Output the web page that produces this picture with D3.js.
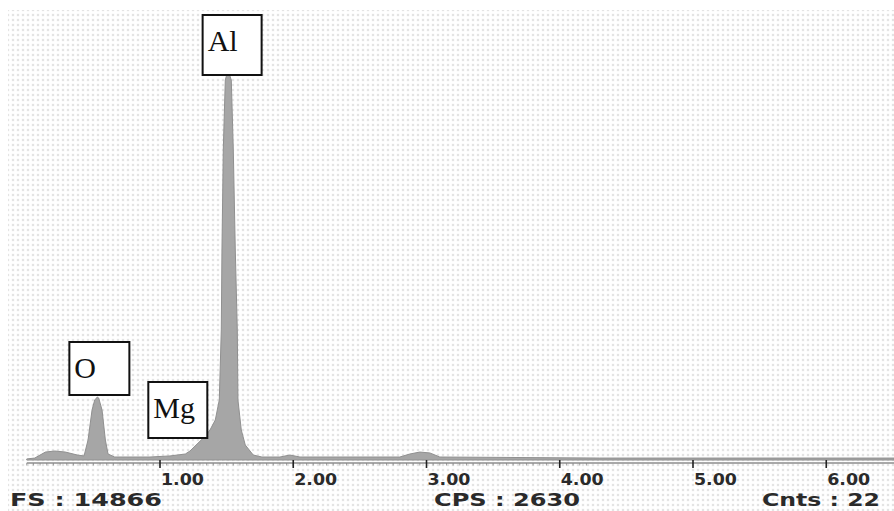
<!DOCTYPE html>
<html>
<head>
<meta charset="utf-8">
<script src="https://cdn.jsdelivr.net/npm/d3@7"></script>
<style>
  body { margin: 0; background: #fff; }
  svg { display: block; }
</style>
</head>
<body>
<svg id="chart"></svg>
<script>
const width = 894;
const height = 511;

// spectrum (keV, counts)
const energy = [0.00, 0.06, 0.14, 0.21, 0.29, 0.38, 0.43, 0.46, 0.49, 0.51, 0.53, 0.54, 0.565, 0.59, 0.61, 0.66,
  0.775, 0.925, 1.075, 1.19, 1.225, 1.285, 1.34, 1.375, 1.415, 1.445, 1.46, 1.465, 1.475, 1.49, 1.51, 1.535,
  1.55, 1.565, 1.58, 1.585, 1.61, 1.64, 1.70, 1.765, 1.90, 1.975, 2.05, 2.80, 2.875, 2.95, 3.025, 3.10, 4.30, 6.51];
const counts = [35, 65, 265, 300, 265, 165, 135, 665, 1665, 2000, 2100, 2065, 1665, 665, 200, 100,
  100, 100, 135, 200, 300, 560, 800, 1000, 1335, 2000, 4335, 7000, 10335, 12665, 13000, 12665,
  10335, 7000, 4335, 2000, 1000, 500, 165, 100, 100, 165, 100, 100, 200, 265, 235, 100, 65, 65];

const tickValues = [1, 2, 3, 4, 5, 6];
const tickLabels = ["1.00", "2.00", "3.00", "4.00", "5.00", "6.00"];

const peakNames = ["O", "Mg", "Al"];
const peakEnergy = [0.53, 1.25, 1.50];

const footer = ["FS : 14866", "CPS : 2630", "Cnts : 22"];

let svg = d3.select("#chart")
  .attr("width", width)
  .attr("height", height);

const x = d3.scaleLinear().domain([0, 6.5]).range([26.75, 26.75 + 6.5 * 133.25]);
const y = d3.scaleLinear().domain([0, 15000]).range([460, 10]);

// dotted grid behind everything
let defs = svg.append("defs");
let pat = defs.append("pattern")
  .attr("id", "dots")
  .attr("width", 5)
  .attr("height", 5)
  .attr("patternUnits", "userSpaceOnUse")
  .attr("x", 0.5)
  .attr("y", 2.5);
pat.append("rect")
  .attr("x", 1.8)
  .attr("y", 1.8)
  .attr("width", 1.4)
  .attr("height", 1.4)
  .style("fill", "#b4b4b4");

svg.append("rect")
  .attr("x", 8)
  .attr("y", 10)
  .attr("width", width - 8)
  .attr("height", height - 10)
  .style("fill", "url(#dots)");

function drawSpectrum() {
  const pts = energy.map((e, i) => ({e: e, c: counts[i]}));
  const area = d3.area()
    .x(d => x(d.e))
    .y0(y(0))
    .y1(d => y(d.c));
  svg.append("path")
    .attr("d", area(pts))
    .style("fill", "#a6a6a6")
    .style("stroke", "#909090")
    .style("stroke-width", 1);
}

function drawAxis() {
  const axisY = 463;
  svg.append("line")
    .attr("x1", x(0))
    .attr("x2", width)
    .attr("y1", axisY)
    .attr("y2", axisY)
    .style("stroke", "#555")
    .style("stroke-width", 1.2);

  // small hatch marks under the line
  const minor = d3.range(0, 4.25, 0.05);
  svg.append("g").selectAll("line")
    .data(minor)
    .join("line")
    .attr("x1", d => x(d))
    .attr("x2", d => x(d))
    .attr("y1", axisY)
    .attr("y2", axisY + 2.5)
    .style("stroke", "#888")
    .style("stroke-width", 0.8);

  svg.append("g").selectAll("line")
    .data(tickValues)
    .join("line")
    .attr("x1", d => x(d))
    .attr("x2", d => x(d))
    .attr("y1", axisY - 3)
    .attr("y2", axisY + 5)
    .style("stroke", "#222")
    .style("stroke-width", 1.6);

  svg.append("g").selectAll("text")
    .data(tickValues)
    .join("text")
    .attr("x", d => x(d) + 1)
    .attr("y", 485)
    .attr("textLength", 43)
    .attr("lengthAdjust", "spacingAndGlyphs")
    .text((d, i) => tickLabels[i])
    .style("font-family", "DejaVu Sans, sans-serif")
    .style("font-weight", "bold")
    .style("font-size", "16px")
    .style("fill", "#2a2a2a");
}

function drawFooter() {
  const fx = [10, 434, 762];
  const fw = [152, 146, 118];
  svg.append("g").selectAll("text")
    .data(footer)
    .join("text")
    .attr("x", (d, i) => fx[i])
    .attr("y", 506)
    .attr("textLength", (d, i) => fw[i])
    .attr("lengthAdjust", "spacingAndGlyphs")
    .text(d => d)
    .style("font-family", "DejaVu Sans, sans-serif")
    .style("font-weight", "bold")
    .style("font-size", "17px")
    .style("fill", "#2a2a2a");
}

function drawLabels() {
  // label boxes sit next to each peak
  const boxW = [60, 59, 59];
  const boxH = [53, 56, 60];
  const dx = [-28, -45, -24];
  const boxTop = [342, 382, 15];
  peakNames.forEach((name, i) => {
    const bx = x(peakEnergy[i]) + dx[i];
    let g = svg.append("g");
    g.append("rect")
      .attr("x", bx)
      .attr("y", boxTop[i])
      .attr("width", boxW[i])
      .attr("height", boxH[i])
      .style("fill", "#fff")
      .style("stroke", "#111")
      .style("stroke-width", 2);
    g.append("text")
      .attr("x", bx + 5)
      .attr("y", boxTop[i] + 36)
      .text(name)
      .style("font-family", "Liberation Serif, serif")
      .style("font-size", "30px")
      .style("fill", "#111");
  });
}

drawSpectrum();
drawAxis();
drawFooter();
drawLabels();
</script>
</body>
</html>
